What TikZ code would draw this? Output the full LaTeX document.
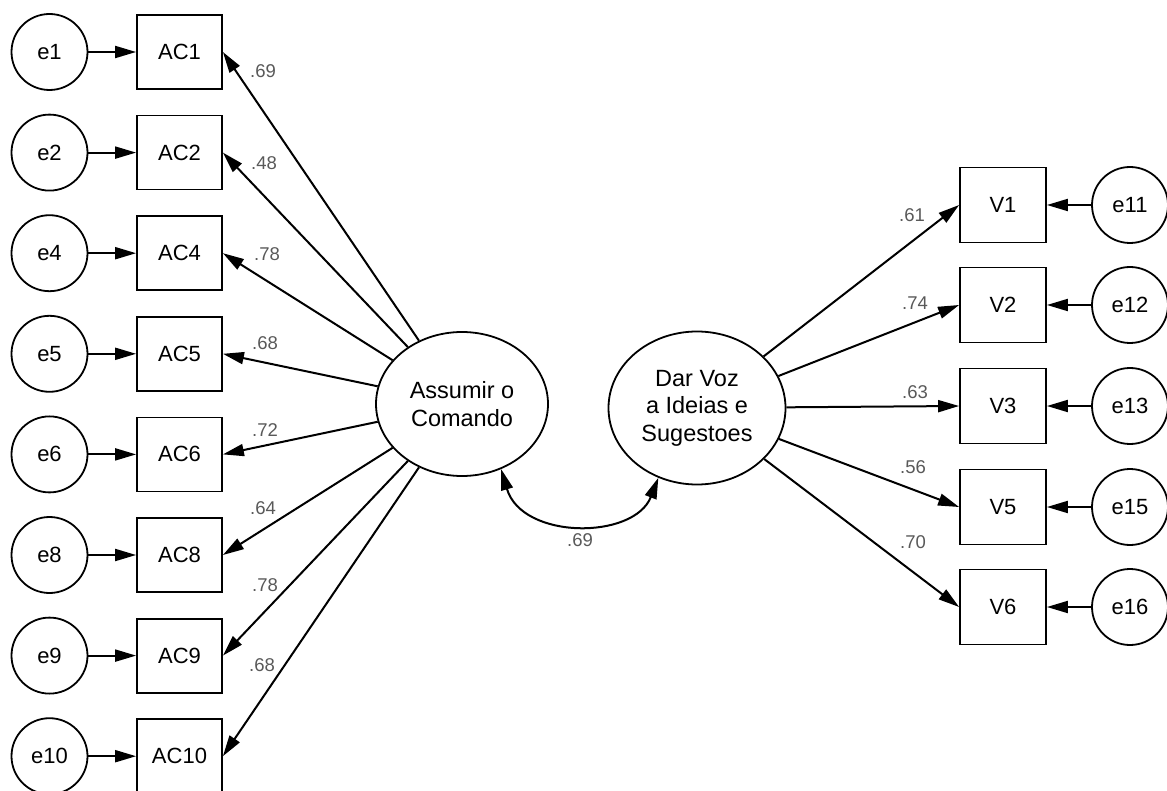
\documentclass[tikz,border=0pt]{standalone}
\usepackage{fontspec}
\setmainfont{Liberation Sans}
\usetikzlibrary{arrows.meta,shapes.geometric}
\begin{document}
\begin{tikzpicture}[x=1pt,y=-1pt,
  obs/.style={draw, line width=1.8pt, minimum width=85pt, minimum height=74pt, inner sep=0pt, font=\fontsize{22}{26}\selectfont},
  err/.style={draw, circle, line width=1.8pt, minimum size=76pt, inner sep=0pt, font=\fontsize{22}{26}\selectfont},
  lat/.style={draw, ellipse, line width=1.8pt, inner sep=0pt, align=center, font=\fontsize{23.5}{27.5}\selectfont},
  arr/.style={line width=2pt, -{Triangle[length=21pt,width=12pt]}},
  lab/.style={font=\fontsize{18.5}{20}\selectfont, text=black!65, inner sep=0pt}
]
\useasboundingbox (0,0) rectangle (1167,791);

% left indicators
\foreach \n/\i/\l/\lx/\ly in {1/0/.69/263/71, 2/1/.48/264/163, 4/2/.78/267/254, 5/3/.68/265/343, 6/4/.72/265/430, 8/5/.64/263/508, 9/6/.78/265/585, 10/7/.68/262/665}{
  \node[obs] (ac\n) at (179.5, 52+100.6*\i) {AC\n};
  \node[err] (e\n) at (49.5, 52+100.6*\i) {e\n};
  \draw[arr] (e\n) -- (ac\n);
  \node[lab] (l\n) at (\lx,\ly) {\l};
}

% latent variables
\node[lat, minimum width=172pt, minimum height=144pt] (A) at (462,404) {Assumir o\\Comando};
\node[lat, minimum width=177pt, minimum height=153pt] (B) at (697,408) {Dar Voz\\a Ideias e\\Sugestoes};

\foreach \n in {1,2,4,5,6,8,9,10}{
  \draw[arr] (A) -- (ac\n.east);
}

% right indicators
\foreach \n/\y/\e/\l/\lx/\ly in {1/205/11/.61/912/215, 2/305/12/.74/915/303, 3/406/13/.63/915/392, 5/507/15/.56/913/467, 6/607/16/.70/913/542}{
  \node[obs, minimum width=86pt, minimum height=75pt] (v\n) at (1003,\y) {V\n};
  \node[err] (e\e) at (1130,\y) {e\e};
  \draw[arr] (e\e) -- (v\n);
  \draw[arr] (B) -- (v\n.west);
  \node[lab] (m\n) at (\lx,\ly) {\l};
}

% covariance
\draw[line width=2pt, {Triangle[length=21pt,width=12pt]}-{Triangle[length=21pt,width=12pt]}]
  (A.301) .. controls (522,540) and (634,540) .. (B.241);
\node[lab] (cov) at (580,540) {.69};
\end{tikzpicture}
\end{document}
